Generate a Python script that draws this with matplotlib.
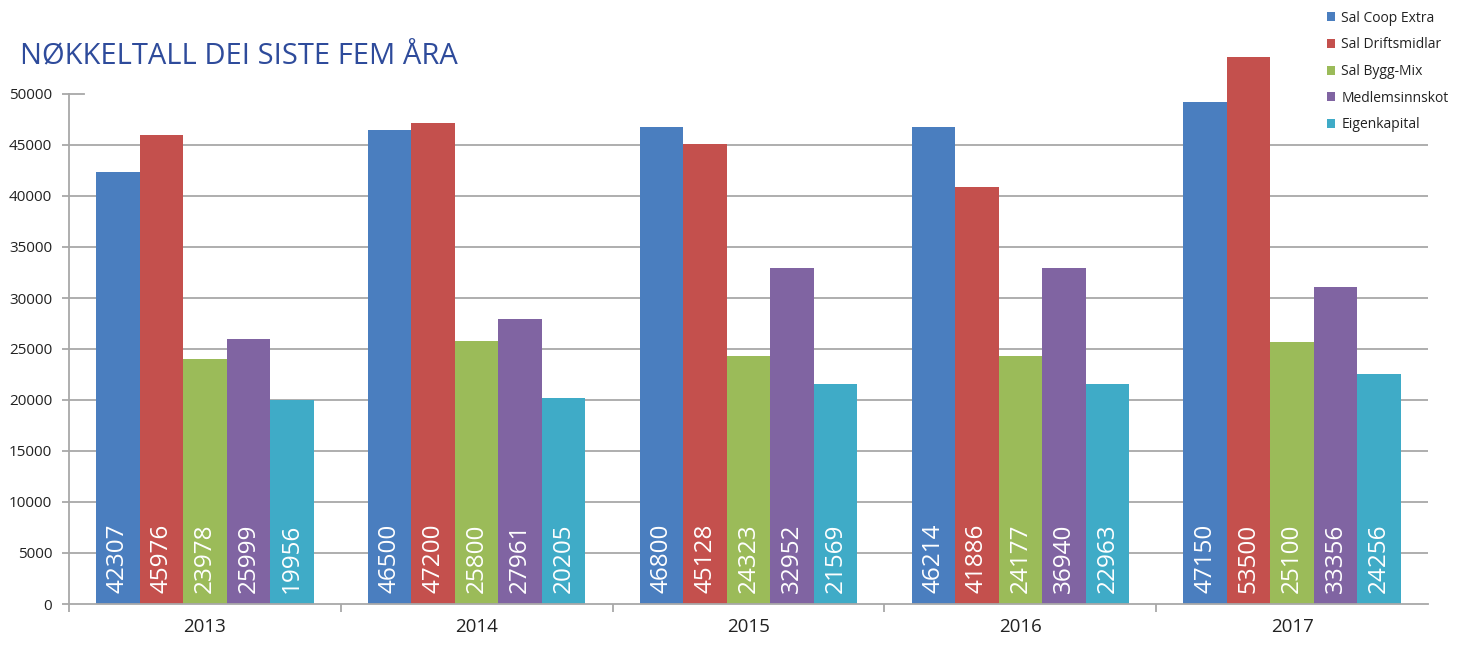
import matplotlib
matplotlib.use("Agg")
import matplotlib.pyplot as plt
from matplotlib.patches import Patch
import numpy as np

plt.rcParams['font.family'] = ['Open Sans', 'DejaVu Sans']

years = ["2013", "2014", "2015", "2016", "2017"]
series = ["Sal Coop Extra", "Sal Driftsmidlar", "Sal Bygg-Mix", "Medlemsinnskot", "Eigenkapital"]

# bar heights as drawn in the reference
coop_extra = [42307, 46500, 46800, 46800, 49240]
driftsmidlar = [45976, 47200, 45128, 40930, 53640]
bygg_mix = [23978, 25800, 24323, 24323, 25650]
medlemsinnskot = [25999, 27961, 32952, 32952, 31040]
eigenkapital = [19956, 20205, 21569, 21569, 22540]

# value labels as printed in the reference
lab_coop_extra = ["42307", "46500", "46800", "46214", "47150"]
lab_driftsmidlar = ["45976", "47200", "45128", "41886", "53500"]
lab_bygg_mix = ["23978", "25800", "24323", "24177", "25100"]
lab_medlemsinnskot = ["25999", "27961", "32952", "36940", "33356"]
lab_eigenkapital = ["19956", "20205", "21569", "22963", "24256"]

values = [coop_extra, driftsmidlar, bygg_mix, medlemsinnskot, eigenkapital]
labels = [lab_coop_extra, lab_driftsmidlar, lab_bygg_mix, lab_medlemsinnskot, lab_eigenkapital]
colors = ["#4A7EBF", "#C4504D", "#9BBB59", "#8064A2", "#3FABC7"]

W, H = 1461, 653
fig = plt.figure(figsize=(W / 100, H / 100), dpi=100)
ax = fig.add_axes([69 / W, 1 - 604 / H, (1428 - 69) / W, (604 - 94) / H])

x = np.arange(len(years))
n = len(series)
bw = 0.16
grid_c = "#A8A8A8"

for i, (vals, labs, c) in enumerate(zip(values, labels, colors)):
    pos = x + (i - (n - 1) / 2) * bw
    ax.bar(pos, vals, width=bw, color=c, clip_on=False, zorder=3, label=series[i])
    for p, t in zip(pos, labs):
        ax.annotate(t, (p, 0), xytext=(0, 8), textcoords="offset points",
                    rotation=90, ha="center", va="bottom", color="white",
                    fontsize=17.5, zorder=4)

ax.set_xlim(-0.5, len(years) - 0.5)
ax.set_ylim(0, 50000)

yt = np.arange(0, 50001, 5000)
ax.set_yticks(yt)
ax.set_yticklabels([str(v) for v in yt])
for v in yt[1:-1]:
    ax.axhline(v, color=grid_c, lw=1.3, zorder=1)
ax.plot([0, 0.011], [50000, 50000], transform=ax.get_yaxis_transform(),
        color=grid_c, lw=1.3, clip_on=False)

ax.set_xticks(x)
ax.set_xticklabels(years)
ax.set_xticks(np.arange(len(years) + 1)[:-1] - 0.5, minor=True)
ax.tick_params(axis="x", which="major", length=0, pad=10, labelsize=13.5, labelcolor="#222222")
ax.tick_params(axis="x", which="minor", length=6, color=grid_c, width=1.3)
ax.tick_params(axis="y", length=5, color=grid_c, width=1.3, pad=7, labelsize=11, labelcolor="#222222")

for s in ["top", "right"]:
    ax.spines[s].set_visible(False)
for s in ["left", "bottom"]:
    ax.spines[s].set_color(grid_c)
    ax.spines[s].set_linewidth(1.3)
    ax.spines[s].set_zorder(5)

fig.text(20 / W, 1 - 64 / H, "NØKKELTALL DEI SISTE FEM ÅRA", color="#2E4B9B",
         fontsize=21, ha="left", va="baseline")

handles = [Patch(facecolor=c, edgecolor="none") for c in colors]
fig.legend(handles, series, loc="upper left", bbox_to_anchor=(1324 / W, 1 - 8 / H),
           frameon=False, fontsize=10, handlelength=0.6, handleheight=0.6,
           handletextpad=0.45, labelspacing=0.84, borderaxespad=0, borderpad=0.2,
           labelcolor="#222222")

fig.savefig("out.png", dpi=100)
